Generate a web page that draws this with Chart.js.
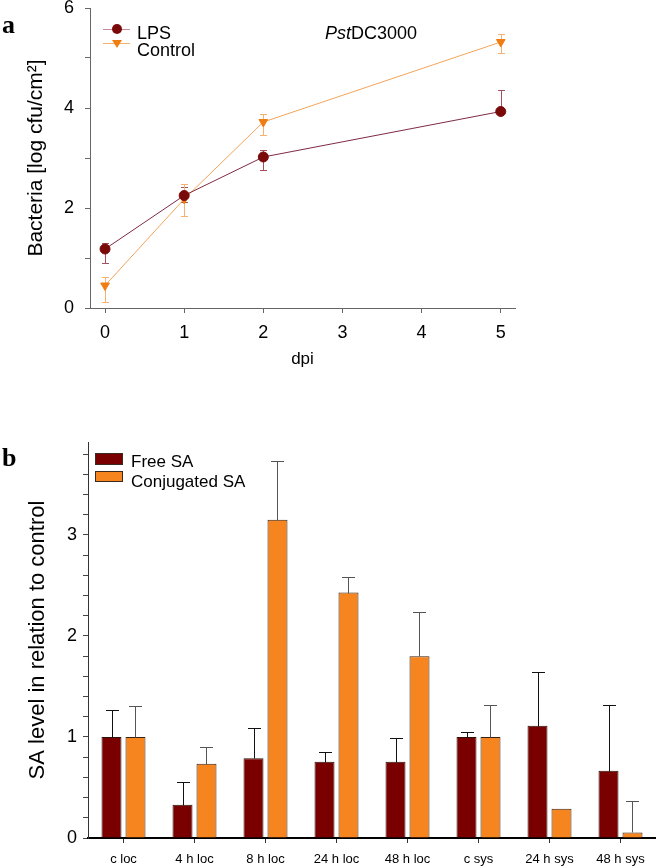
<!DOCTYPE html>
<html>
<head>
<meta charset="utf-8">
<script src="https://cdn.jsdelivr.net/npm/chart.js@4.4.1/dist/chart.umd.min.js"></script>
<style>
  body { margin: 0; background: #fff; }
  #page { position: relative; width: 656px; height: 867px; overflow: hidden; background: #fff;
          font-family: 'Liberation Sans', Arial, sans-serif; color: #000; }
  canvas { position: absolute; left: 0; }
  .lbl { position: absolute; white-space: nowrap; }
  .panel { font-family: 'Liberation Serif', 'Times New Roman', serif; font-weight: bold; font-size: 26px; line-height: 26px; }
  .legA { font-size: 18px; line-height: 18px; }
  .legB { font-size: 17px; line-height: 17px; }
  .swatch { position: absolute; box-sizing: border-box; border: 1px solid #3a2a20; }
  .legline { position: absolute; height: 1px; }
  .dot { position: absolute; width: 10px; height: 10px; border-radius: 50%; background: #7a0a0a; }
  .tri { position: absolute; width: 0; height: 0; border-left: 5px solid transparent;
         border-right: 5px solid transparent; border-top: 8px solid #f07d12; }
</style>
</head>
<body>
<div id="page">
  <canvas id="chartA" width="656" height="380" style="top:0"></canvas>
  <canvas id="chartB" width="656" height="467" style="top:400px"></canvas>

  <div class="lbl panel" style="left:2px; top:12px;">a</div>
  <div class="lbl panel" style="left:2px; top:445px;">b</div>

  <!-- legend panel a -->
  <div class="legline" style="left:103px; top:29px; width:27px; background:#c48a98;"></div>
  <div class="dot" style="left:112px; top:24px;"></div>
  <div class="lbl legA" style="left:137px; top:24px;">LPS</div>
  <div class="legline" style="left:103px; top:43px; width:27px; background:#f5b06a;"></div>
  <div class="tri" style="left:112px; top:40px;"></div>
  <div class="lbl legA" style="left:137px; top:41px;">Control</div>
  <div class="lbl legA" style="left:325px; top:24px;"><i>Pst</i>DC3000</div>

  <!-- legend panel b -->
  <div class="swatch" style="left:95px; top:453px; width:28px; height:12px; background:#7a0000;"></div>
  <div class="lbl legB" style="left:131px; top:453px;">Free SA</div>
  <div class="swatch" style="left:95px; top:471px; width:28px; height:11px; background:#f7851f;"></div>
  <div class="lbl legB" style="left:131px; top:473px;">Conjugated SA</div>
</div>

<script>
// panel a: bacterial growth
const dpi = [0, 1, 2, 5];
const lpsMean = [1.18, 2.25, 3.02, 3.93];
const lpsErrUp = [0.13, 0.18, 0.15, 0.43];
const lpsErrDown = [0.27, 0.12, 0.26, 0];
const ctrlMean = [0.45, 2.18, 3.72, 5.32];
const ctrlErrUp = [0.18, 0.3, 0.16, 0.15];
const ctrlErrDown = [0.33, 0.34, 0.26, 0.22];

// panel b: SA levels
const saCategories = ['c loc', '4 h loc', '8 h loc', '24 h loc', '48 h loc', 'c sys', '24 h sys', '48 h sys'];
const freeSA = [1.0, 0.33, 0.79, 0.755, 0.755, 1.0, 1.11, 0.665];
const freeSAErr = [0.27, 0.22, 0.30, 0.095, 0.235, 0.05, 0.53, 0.655];
const conjSA = [1.0, 0.735, 3.15, 2.43, 1.80, 1.0, 0.29, 0.055];
const conjSAErr = [0.31, 0.165, 0.58, 0.15, 0.44, 0.32, 0, 0.315];

Chart.defaults.font.family = "'Liberation Sans', Arial, sans-serif";
Chart.defaults.color = '#000';

const errorBars = {
  id: 'errorBars',
  draw(chart, opts) {
    const ctx = chart.ctx;
    const yScale = chart.scales.y;
    chart.data.datasets.forEach((ds, di) => {
      if (!ds.errUp) return;
      const meta = chart.getDatasetMeta(di);
      ctx.save();
      ctx.strokeStyle = ds.errColor || '#000';
      ctx.lineWidth = 1;
      meta.data.forEach((el, i) => {
        const v = meta.controller.getParsed(i).y;
        const up = ds.errUp[i] || 0;
        const dn = ds.errDown ? ds.errDown[i] : 0;
        if (!up && !dn) return;
        const x = Math.round(el.x) + 0.5;
        const yTop = Math.round(yScale.getPixelForValue(v + up)) + 0.5;
        const yBot = Math.round(yScale.getPixelForValue(v - dn)) + 0.5;
        ctx.beginPath();
        ctx.moveTo(x, yTop);
        ctx.lineTo(x, yBot);
        if (up) { ctx.moveTo(x - opts.cap, yTop); ctx.lineTo(x + opts.cap, yTop); }
        if (dn) { ctx.moveTo(x - opts.cap, yBot); ctx.lineTo(x + opts.cap, yBot); }
        ctx.stroke();
      });
      ctx.restore();
    });
  },
  beforeDatasetsDraw(chart, args, opts) { if (opts.before) this.draw(chart, opts); },
  afterDatasetsDraw(chart, args, opts) { if (!opts.before) this.draw(chart, opts); }
};

new Chart(document.getElementById('chartA'), {
  type: 'line',
  data: {
    datasets: [
      {
        label: 'LPS',
        data: dpi.map((x, i) => ({ x: x, y: lpsMean[i] })),
        borderColor: '#7d2b44',
        borderWidth: 1,
        pointStyle: 'circle',
        pointRadius: 5,
        pointBackgroundColor: '#7a0a0a',
        pointBorderColor: '#7a0a0a',
        errUp: lpsErrUp,
        errDown: lpsErrDown,
        errColor: '#a5505f'
      },
      {
        label: 'Control',
        data: dpi.map((x, i) => ({ x: x, y: ctrlMean[i] })),
        borderColor: '#f3a45a',
        borderWidth: 1,
        pointStyle: 'triangle',
        pointRotation: 180,
        pointRadius: 5,
        pointBackgroundColor: '#f07d12',
        pointBorderColor: '#f07d12',
        errUp: ctrlErrUp,
        errDown: ctrlErrDown,
        errColor: '#f6b070'
      }
    ]
  },
  options: {
    responsive: false,
    animation: false,
    layout: { padding: { left: 0, top: 8, right: 141, bottom: 0 } },
    plugins: {
      legend: { display: false },
      tooltip: { enabled: false },
      errorBars: { cap: 3.5, before: true }
    },
    scales: {
      x: {
        type: 'linear',
        min: -0.19,
        max: 5.18,
        ticks: { stepSize: 1, includeBounds: false, font: { size: 18 }, padding: 9 },
        grid: { drawOnChartArea: false, tickLength: 5, color: '#666' },
        border: { color: '#666' },
        title: { display: true, text: 'dpi', font: { size: 17 }, padding: { top: 0, bottom: 10 } },
        afterFit: s => { s.height = 72; s.paddingLeft = 0; s.paddingRight = 0; }
      },
      y: {
        min: 0,
        max: 6,
        ticks: {
          stepSize: 1,
          includeBounds: false,
          font: { size: 18 },
          padding: 11,
          callback: v => (v % 2 === 0 ? v : '')
        },
        grid: { drawOnChartArea: false, tickLength: 5, color: '#666' },
        border: { color: '#666' },
        title: { display: true, text: 'Bacteria [log cfu/cm²]', font: { size: 21 }, padding: { top: 24, bottom: 0 } },
        afterFit: s => { s.width = 90; s.paddingTop = 0; s.paddingBottom = 0; }
      }
    }
  },
  plugins: [errorBars]
});

new Chart(document.getElementById('chartB'), {
  type: 'bar',
  data: {
    labels: saCategories,
    datasets: [
      {
        label: 'Free SA',
        data: freeSA,
        backgroundColor: '#7a0000',
        borderColor: '#2e1208',
        borderWidth: 1,
        errUp: freeSAErr,
        errColor: '#111'
      },
      {
        label: 'Conjugated SA',
        data: conjSA,
        backgroundColor: '#f7851f',
        borderColor: '#3a2010',
        borderWidth: 1,
        errUp: conjSAErr,
        errColor: '#555'
      }
    ]
  },
  options: {
    responsive: false,
    animation: false,
    categoryPercentage: 0.676,
    barPercentage: 0.833,
    layout: { padding: { left: 0, top: 42, right: 0, bottom: 0 } },
    plugins: {
      legend: { display: false },
      tooltip: { enabled: false },
      errorBars: { cap: 6.5, before: false }
    },
    scales: {
      x: {
        ticks: { font: { size: 13 }, padding: 9, autoSkip: false, maxRotation: 0 },
        grid: { drawOnChartArea: false, offset: false, tickLength: 5, color: '#333' },
        border: { color: '#000', width: 2 },
        afterFit: s => { s.height = 29; s.paddingLeft = 0; s.paddingRight = 0; }
      },
      y: {
        min: 0,
        max: 3.92,
        ticks: {
          stepSize: 0.2,
          includeBounds: false,
          autoSkip: false,
          font: { size: 18 },
          padding: 6,
          callback: v => (Math.abs(v - Math.round(v)) < 1e-6 ? Math.round(v) : '')
        },
        grid: { drawOnChartArea: false, tickLength: 5, color: '#444' },
        border: { color: '#333' },
        title: { display: true, text: 'SA level in relation to control', font: { size: 22 }, padding: { top: 25, bottom: 0 } },
        afterFit: s => { s.width = 88; s.paddingTop = 0; s.paddingBottom = 0; }
      }
    }
  },
  plugins: [errorBars]
});
</script>
</body>
</html>
